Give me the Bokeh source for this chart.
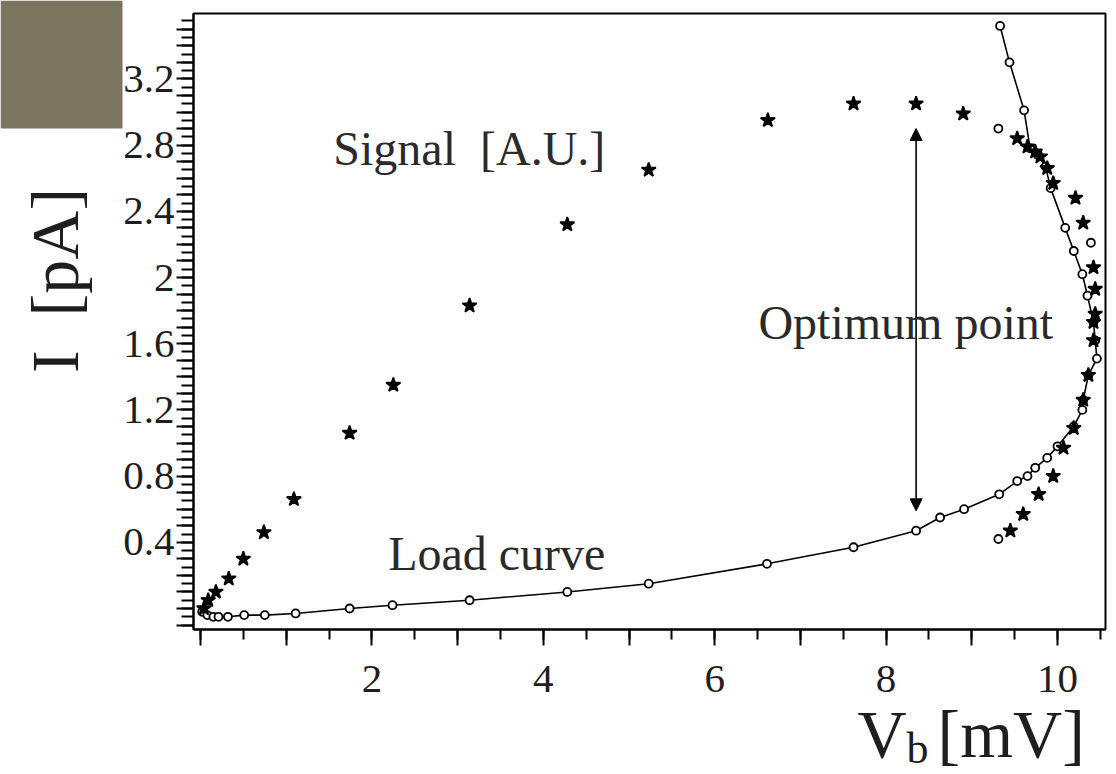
import numpy as np
from bokeh.plotting import figure
from bokeh.models import (FixedTicker, Label, Arrow, NormalHead, ColumnDataSource,
                          Range1d)
from bokeh.embed import file_html
from bokeh.resources import INLINE

# ---------------- data ----------------
# Load curve: bias voltage V_b [mV] and current I [pA]
load_v = [0.02, 0.08, 0.15, 0.21, 0.32, 0.51, 0.75, 1.11, 1.74, 2.24, 3.14, 4.28,
          5.23, 6.61, 7.62, 8.35, 8.63, 8.91, 9.32, 9.53, 9.65, 9.74, 9.88, 10.00,
          10.19, 10.29, 10.30, 10.36, 10.46, 10.44, 10.42, 10.35, 10.29, 10.19,
          10.09, 9.92, 9.86, 9.77, 9.68, 9.61, 9.44, 9.33]
load_i = [-0.02, -0.04, -0.05, -0.05, -0.05, -0.04, -0.04, -0.03, 0.00, 0.02, 0.05,
          0.10, 0.15, 0.27, 0.37, 0.47, 0.55, 0.60, 0.69, 0.77, 0.80, 0.85, 0.91,
          0.98, 1.10, 1.20, 1.26, 1.41, 1.51, 1.62, 1.73, 1.89, 2.02, 2.16, 2.30,
          2.54, 2.67, 2.74, 2.78, 3.01, 3.30, 3.52]

# Signal [A.U.] plotted on the same axes
signal_v = [0.04, 0.09, 0.18, 0.33, 0.50, 0.74, 1.09, 1.74, 2.25, 3.14, 4.28, 5.23,
            6.62, 7.62, 8.35, 8.90, 9.31, 9.53, 9.65, 9.74, 9.80, 9.88, 9.95, 10.21,
            10.30, 10.39, 10.42, 10.44, 10.44, 10.42, 10.42, 10.36, 10.30, 10.19,
            10.07, 9.95, 9.78, 9.60, 9.45, 9.31]
signal_s = [0.00, 0.05, 0.10, 0.18, 0.30, 0.46, 0.66, 1.06, 1.35, 1.83, 2.32, 2.65,
            2.95, 3.05, 3.05, 2.99, 2.90, 2.84, 2.79, 2.76, 2.73, 2.66, 2.57, 2.48,
            2.33, 2.21, 2.06, 1.93, 1.78, 1.73, 1.62, 1.41, 1.26, 1.09, 0.97, 0.80,
            0.69, 0.57, 0.47, 0.42]
signal_hollow = [16, 25, 39]   # points drawn as hollow markers

# Optimum point arrow (V position, lower and upper I ends)
optimum_v = 8.35
optimum_low = 0.59
optimum_high = 2.90

x_tick_labels = {2: "2", 4: "4", 6: "6", 8: "8", 10: "10"}
y_tick_labels = {0.4: "0.4", 0.8: "0.8", 1.2: "1.2", 1.6: "1.6",
                 2.0: "2", 2.4: "2.4", 2.8: "2.8", 3.2: "3.2"}

# ---------------- page geometry (pixels -> data) ----------------
FONT = "Liberation Serif"
INK = "#1e1e1e"
PAGE_W, PAGE_H = 1116, 774
X0_PX, X_SCALE = 200.0, 85.7     # pixel of V=0, pixels per mV
Y0_PX, Y_SCALE = 608.0, 165.5    # pixel of I=0, pixels per pA


def dx(px):
    return (px - X0_PX) / X_SCALE


def dy(py):
    return (Y0_PX - py) / Y_SCALE


BOX_L, BOX_R, BOX_T, BOX_B = dx(193), dx(1105), dy(13), dy(629)

p = figure(width=PAGE_W, height=PAGE_H, output_backend="svg",
           toolbar_location=None, title=None, min_border=0,
           x_range=Range1d(dx(0), dx(PAGE_W)), y_range=Range1d(dy(PAGE_H), dy(0)))
p.background_fill_color = "white"
p.border_fill_color = "white"
p.outline_line_color = None
p.grid.visible = False

# olive patch in the top-left corner
p.quad(left=dx(0), right=dx(122), top=dy(0), bottom=dy(128),
       fill_color="#7b7560", line_color=None, level="underlay")

# plot box
p.quad(left=BOX_L, right=BOX_R, top=BOX_T, bottom=BOX_B, fill_color=None,
       line_color="black", line_width=2)

# axes drawn on the box edges
x_major = [float(i) for i in range(0, 11)]
x_minor = [i * 0.5 for i in range(0, 22)]
p.xaxis.ticker = FixedTicker(ticks=x_major, minor_ticks=x_minor)
p.xaxis.major_label_overrides = {k: x_tick_labels.get(int(k), "") for k in x_major}
p.xaxis.fixed_location = BOX_B
p.xaxis.bounds = (BOX_L, BOX_R)
p.xaxis.major_tick_out = 16
p.xaxis.minor_tick_out = 10
p.xaxis.major_label_standoff = 20

y_major = [round(i * 0.1, 2) for i in range(-1, 36)]
y_minor = [round(i * 0.05, 3) for i in range(-2, 72)]
p.yaxis.ticker = FixedTicker(ticks=y_major, minor_ticks=y_minor)
p.yaxis.major_label_overrides = {k: y_tick_labels.get(k, "") for k in y_major}
p.yaxis.fixed_location = BOX_L
p.yaxis.bounds = (BOX_B, BOX_T)
p.yaxis.major_tick_out = 17
p.yaxis.minor_tick_out = 12
p.yaxis.major_label_standoff = 2

for ax in (p.xaxis, p.yaxis):
    ax.major_tick_in = 0
    ax.minor_tick_in = 0
    ax.major_tick_line_width = 2
    ax.minor_tick_line_width = 2
    ax.axis_line_width = 2
    ax.major_label_text_font = FONT
    ax.major_label_text_font_size = "41px"
    ax.major_label_text_color = INK
    ax.axis_line_color = "black"
    ax.major_tick_line_color = "black"
    ax.minor_tick_line_color = "black"

# load curve
p.line(load_v, load_i, line_color="black", line_width=1.6)
p.scatter(load_v, load_i, marker="circle", size=8, line_color="black",
          line_width=1.8, fill_color="white")

# signal
n_sig = len(signal_v)
src = ColumnDataSource(dict(
    x=signal_v, y=signal_s,
    fill=["white" if k in signal_hollow else "black" for k in range(n_sig)],
    marker=["circle" if k in signal_hollow else "star" for k in range(n_sig)],
    size=[8 if k in signal_hollow else 15 for k in range(n_sig)]))
p.scatter("x", "y", source=src, marker="marker", size="size", fill_color="fill",
          line_color="black", line_width=1.8)

# optimum arrow
p.add_layout(Arrow(x_start=optimum_v, y_start=optimum_low, x_end=optimum_v,
                   y_end=optimum_high, line_width=1.6, line_color="black",
                   start=NormalHead(size=12, fill_color="black", line_color="black"),
                   end=NormalHead(size=12, fill_color="black", line_color="black")))

# texts inside the box
for txt, x, y in [("Signal\u00a0 [A.U.]", 1.55, 2.78),
                  ("Optimum point", 6.51, 1.73),
                  ("Load curve", 2.19, 0.33)]:
    p.add_layout(Label(x=x, y=y, text=txt, text_font=FONT, text_font_size="48px",
                       text_color="#2a2a2a", text_align="left",
                       text_baseline="alphabetic"))

# axis titles
p.add_layout(Label(x=dx(54), y=dy(280), text="I\u00a0 [pA]", angle=np.pi / 2,
                   text_font=FONT, text_font_size="68px", text_color=INK,
                   text_align="center", text_baseline="middle"))
p.add_layout(Label(x=dx(857), y=dy(733), text="V", text_font=FONT,
                   text_font_size="68px", text_color=INK,
                   text_align="left", text_baseline="alphabetic"))
p.add_layout(Label(x=dx(906), y=dy(748), text="b", text_font=FONT,
                   text_font_size="44px", text_color=INK,
                   text_align="left", text_baseline="alphabetic"))
p.add_layout(Label(x=dx(937), y=dy(733), text="[mV]", text_font=FONT,
                   text_font_size="68px", text_color=INK,
                   text_align="left", text_baseline="alphabetic"))

open("out.html", "w").write(file_html(p, INLINE))
